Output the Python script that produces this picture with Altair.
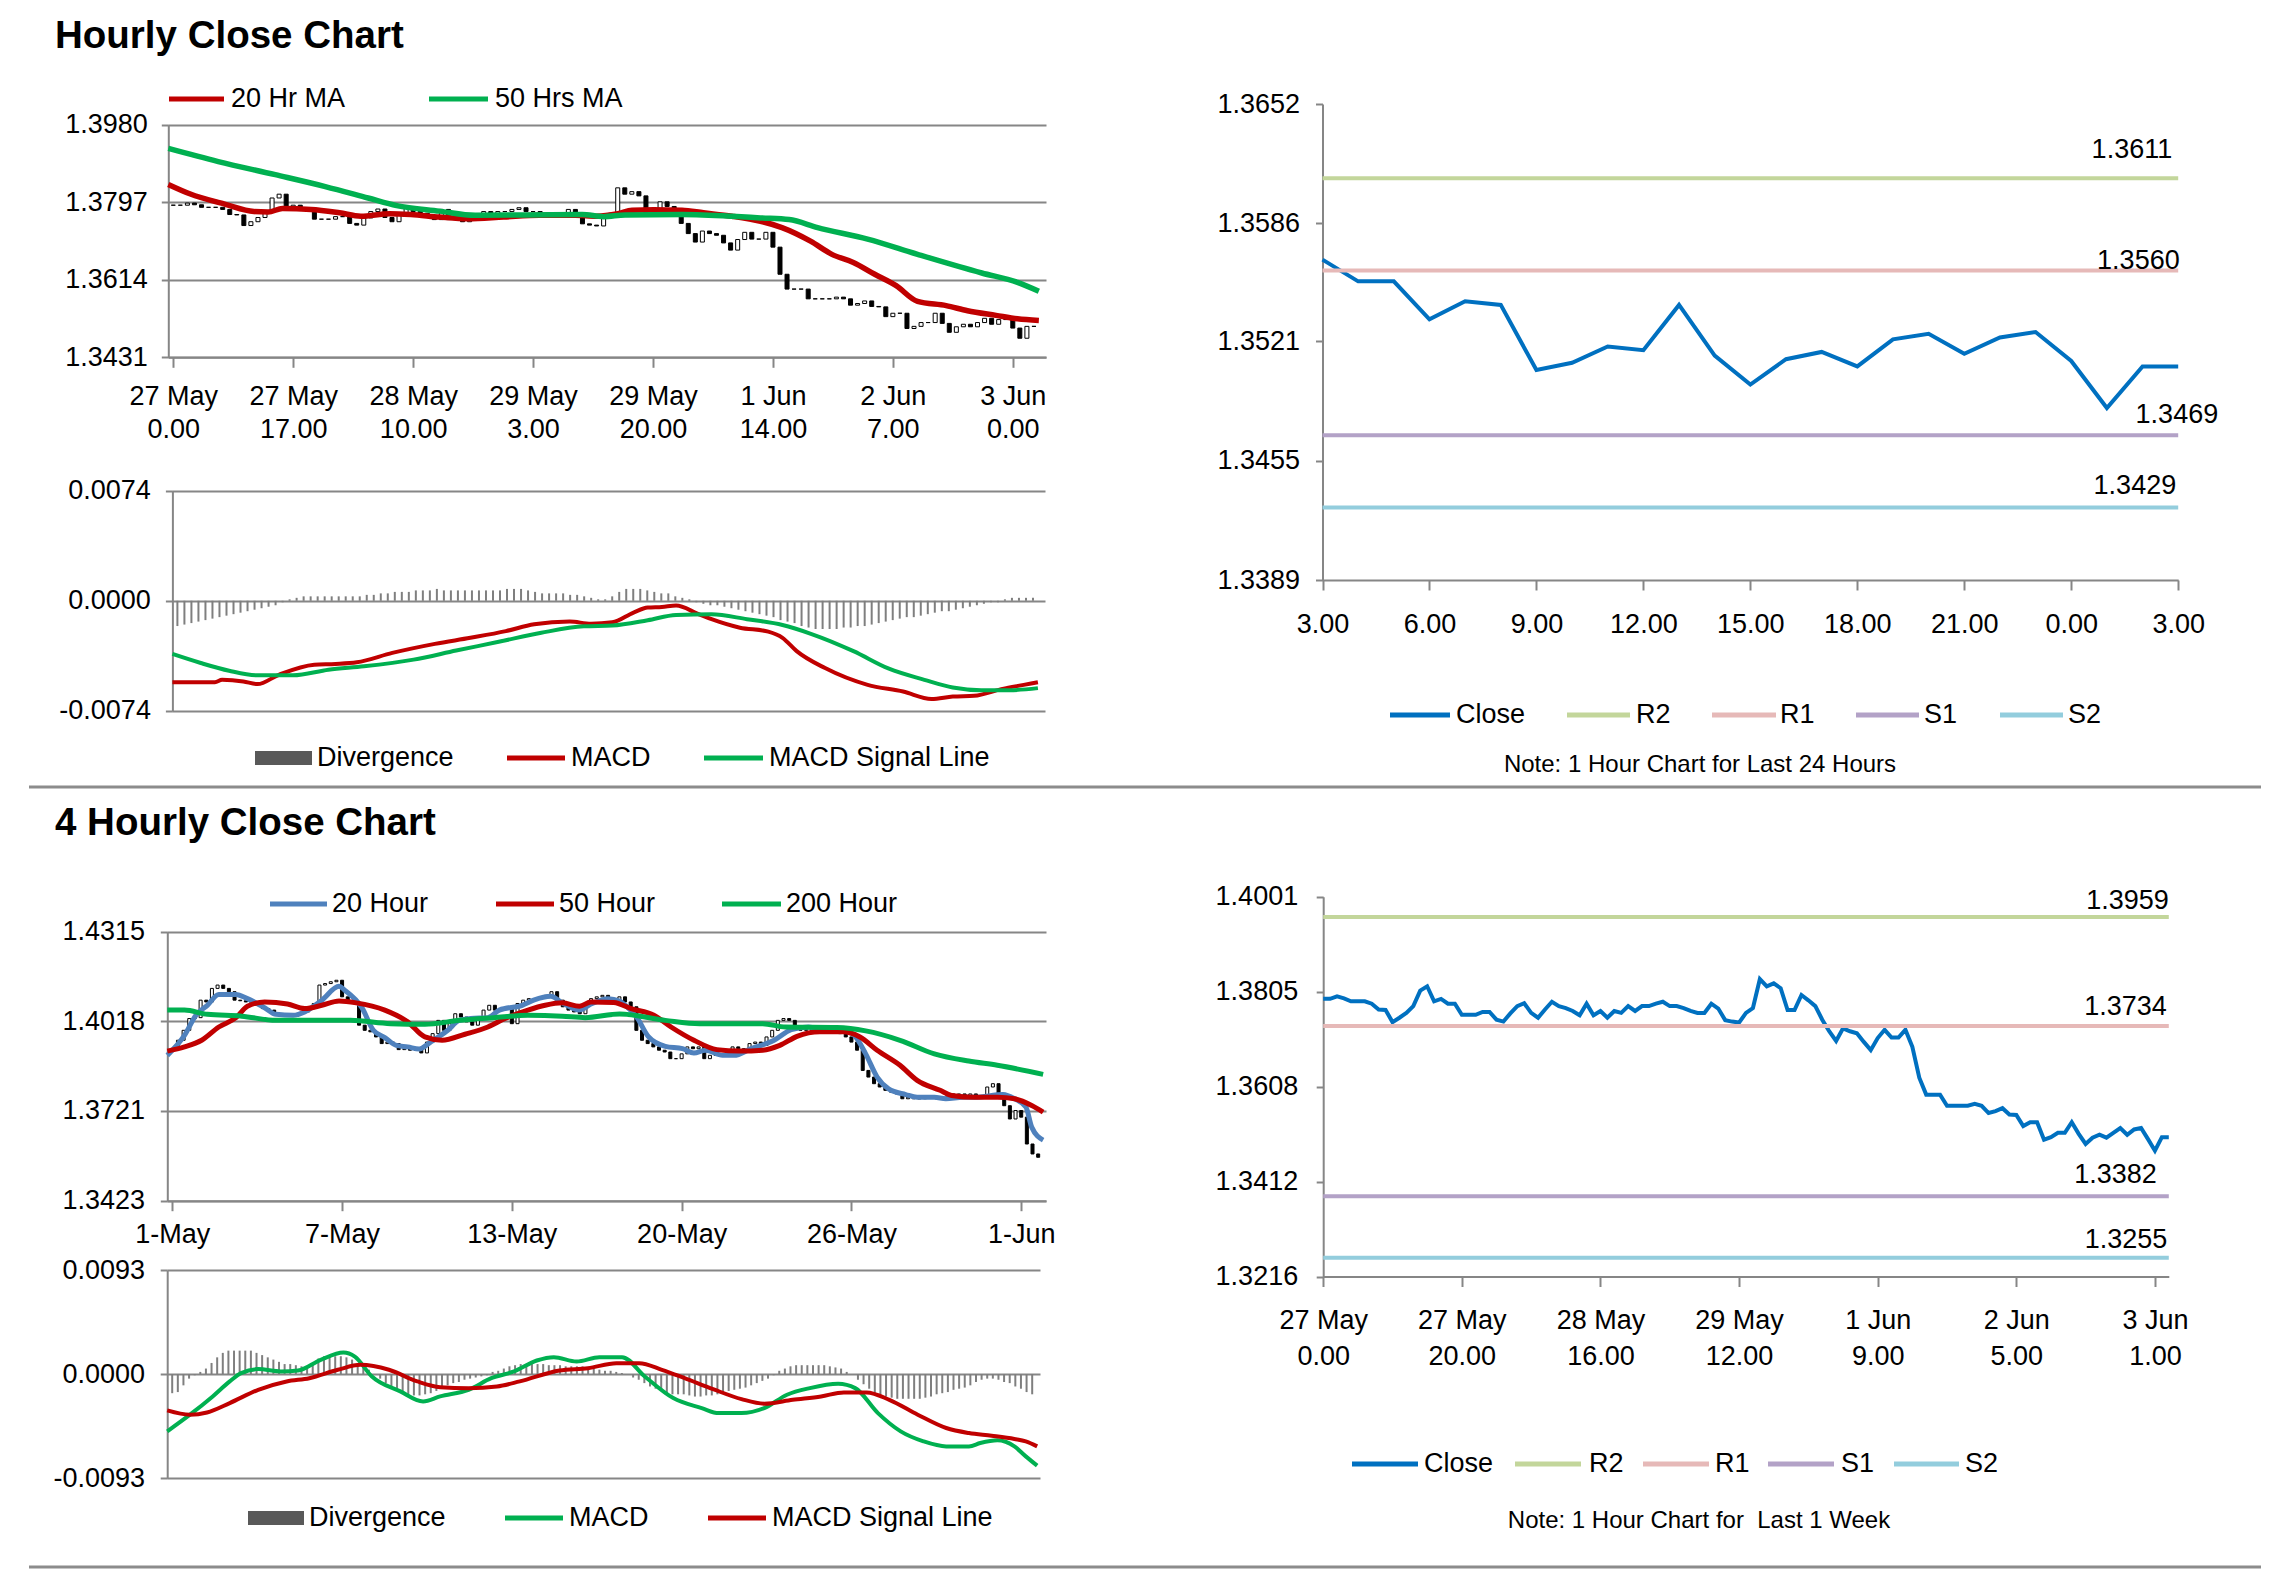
import altair as alt
import pandas as pd

FONT = "Liberation Sans"
GRID = "#868686"
W, H = 2275, 1561

# ======================= DATA =======================
# Hourly closes, index 0 = 27 May 0:00 ... index 122 = 3 Jun 3:00
close_week = [
    1.3790, 1.3790, 1.3795, 1.3791, 1.3785, 1.3785, 1.3785, 1.3780, 1.3768, 1.3767,
    1.3742, 1.3751, 1.3761, 1.3775, 1.3807, 1.3816, 1.3785, 1.3790, 1.3780, 1.3780,
    1.3757, 1.3757, 1.3757, 1.3763, 1.3763, 1.3747, 1.3743, 1.3760, 1.3775, 1.3781,
    1.3761, 1.3751, 1.3768, 1.3784, 1.3775, 1.3771, 1.3765, 1.3756, 1.3780, 1.3756,
    1.3765, 1.3751, 1.3765, 1.3761, 1.3775, 1.3765, 1.3775, 1.3775, 1.3780, 1.3784,
    1.3775, 1.3775, 1.3771, 1.3765, 1.3761, 1.3761, 1.3780, 1.3770, 1.3746, 1.3743,
    1.3741, 1.3761, 1.3771, 1.3831, 1.3816, 1.3822, 1.3812, 1.3767, 1.3767, 1.3798,
    1.3787, 1.3775, 1.3747, 1.3723, 1.3703, 1.3729, 1.3723, 1.3719, 1.3701, 1.3684,
    1.3709, 1.3726, 1.3710, 1.3710, 1.3726, 1.3691, 1.3627, 1.3592, 1.3592, 1.3592,
    1.3569, 1.3569, 1.3569, 1.3569, 1.3573, 1.3569, 1.3554, 1.3558, 1.3564, 1.3551,
    1.3550, 1.3527, 1.3535, 1.3535, 1.3499, 1.3504, 1.3513, 1.3513, 1.3535, 1.3511,
    1.3490, 1.3503, 1.3509, 1.3503, 1.3513, 1.3523, 1.3509, 1.3520, 1.3523, 1.3500,
    1.3476, 1.3504, 1.3504,
]
hour_tick_idx = [0, 17, 34, 51, 68, 85, 102, 119]
hour_tick_day = ["27 May", "27 May", "28 May", "29 May", "29 May", "1 Jun", "2 Jun", "3 Jun"]
hour_tick_time = ["0.00", "17.00", "10.00", "3.00", "20.00", "14.00", "7.00", "0.00"]

ma20_h_idx = [0, 3, 8, 12, 14, 16, 20, 24, 27, 31, 34, 38, 42, 47, 52, 57, 60, 63, 65, 68,
              72, 75, 79, 83, 86, 90, 93, 96, 99, 102, 105, 109, 112, 116, 119, 122]
ma20_h_val = [1.3839, 1.3817, 1.3792, 1.3775, 1.3774, 1.3782, 1.3780, 1.3772, 1.3764, 1.3770,
              1.3768, 1.3762, 1.3758, 1.3762, 1.3766, 1.3766, 1.3764, 1.3770, 1.3778, 1.3779,
              1.3778, 1.3772, 1.3764, 1.3752, 1.3737, 1.3705, 1.3674, 1.3655, 1.3627, 1.3600,
              1.3563, 1.3553, 1.3541, 1.3530, 1.3522, 1.3518]
ma50_h_idx = [0, 7, 15, 22, 28, 32, 38, 43, 50, 58, 61, 64, 72, 79, 83, 87, 91, 98, 105, 114, 119, 122]
ma50_h_val = [1.3924, 1.3893, 1.3862, 1.3834, 1.3807, 1.3789, 1.3776, 1.3766, 1.3767, 1.3768,
              1.3763, 1.3767, 1.3768, 1.3764, 1.3760, 1.3756, 1.3737, 1.3710, 1.3674, 1.3630,
              1.3608, 1.3587]

macd_h_idx = [0, 6, 7, 10, 12, 15, 20, 23, 26, 31, 37, 42, 47, 51, 56, 59, 62, 65, 67, 69,
              71, 74, 76, 80, 84, 86, 88, 92, 98, 103, 107, 110, 113, 117, 120, 122]
macd_h_val = [-0.00548, -0.00548, -0.00532, -0.00543, -0.00561, -0.00498, -0.00430, -0.00425, -0.00414, -0.00351,
              -0.00290, -0.00249, -0.00204, -0.00158, -0.00140, -0.00154, -0.00145, -0.00079, -0.00045, -0.00041,
              -0.00032, -0.00086, -0.00124, -0.00181, -0.00208, -0.00249, -0.00339, -0.00453, -0.00566, -0.00611,
              -0.00661, -0.00645, -0.00640, -0.00593, -0.00566, -0.00548]
sig_h_idx = [0, 4, 8, 12, 17, 22, 27, 34, 40, 46, 52, 58, 62, 67, 71, 76, 81, 86, 90, 96,
             101, 106, 110, 114, 118, 122]
sig_h_val = [-0.00358, -0.00419, -0.00471, -0.00502, -0.00502, -0.00464, -0.00441, -0.00396, -0.00335, -0.00276,
             -0.00215, -0.00172, -0.00167, -0.00131, -0.00095, -0.00091, -0.00124, -0.00163, -0.00222, -0.00339,
             -0.00457, -0.00532, -0.00584, -0.00602, -0.00602, -0.00588]
div_h = [
    -0.0017, -0.0016, -0.0015, -0.0014, -0.0013, -0.0012, -0.0011, -0.0010, -0.0009, -0.0008,
    -0.0007, -0.0006, -0.0005, -0.0004, -0.0003, -0.0001, 0.0001, 0.0002, 0.0003, 0.0003,
    0.0003, 0.0003, 0.0003, 0.0003, 0.0003, 0.0003, 0.0003, 0.0004, 0.0004, 0.0005,
    0.0005, 0.0006, 0.0006, 0.0006, 0.0007, 0.0007, 0.0007, 0.0008, 0.0007, 0.0007,
    0.0007, 0.0007, 0.0007, 0.0007, 0.0007, 0.0007, 0.0007, 0.0008, 0.0008, 0.0008,
    0.0007, 0.0006, 0.0005, 0.0005, 0.0005, 0.0005, 0.0004, 0.0004, 0.0003, 0.0002,
    0.0001, 0.0001, 0.0003, 0.0006, 0.0008, 0.0008, 0.0008, 0.0007, 0.0006, 0.0005,
    0.0005, 0.0003, 0.0002, 0.0001, -0.0001, -0.0002, -0.0003, -0.0003, -0.0004, -0.0005,
    -0.0006, -0.0007, -0.0008, -0.0009, -0.0010, -0.0011, -0.0013, -0.0014, -0.0015, -0.0017,
    -0.0018, -0.0019, -0.0019, -0.0019, -0.0019, -0.0018, -0.0018, -0.0017, -0.0017, -0.0016,
    -0.0015, -0.0014, -0.0013, -0.0012, -0.0011, -0.0011, -0.0010, -0.0009, -0.0008, -0.0007,
    -0.0007, -0.0006, -0.0005, -0.0004, -0.0003, -0.0002, -0.0001, -0.0001, 0.0001, 0.0002,
    0.0002, 0.0002, 0.0002,
]

# Last 24 hours (2 Jun 3.00 -> 3 Jun 3.00)
close_24h = [1.3566, 1.3554, 1.3554, 1.3533, 1.3543, 1.3541, 1.3505, 1.3509, 1.3518, 1.3516,
             1.3541, 1.3513, 1.3497, 1.3511, 1.3515, 1.3507, 1.3522, 1.3525, 1.3514, 1.3523,
             1.3526, 1.3510, 1.3484, 1.3507, 1.3507]
day_tick_idx = [0, 3, 6, 9, 12, 15, 18, 21, 24]
day_tick_lbl = ["3.00", "6.00", "9.00", "12.00", "15.00", "18.00", "21.00", "0.00", "3.00"]
lvl_names = ["R2", "R1", "S1", "S2"]
lvl_colors = ["#C3D69B", "#E6B9B8", "#B3A2C7", "#93CDDD"]
lvl_24h = [1.3611, 1.3560, 1.3469, 1.3429]
lvl_week = [1.3959, 1.3734, 1.3382, 1.3255]

week_tick_idx = [0, 20, 40, 60, 80, 100, 120]
week_tick_day = ["27 May", "27 May", "28 May", "29 May", "1 Jun", "2 Jun", "3 Jun"]
week_tick_time = ["0.00", "20.00", "16.00", "12.00", "9.00", "5.00", "1.00"]

# 4-hourly closes (index 0 = 1 May)
close_4h = [
    1.3927, 1.3955, 1.3988, 1.4027, 1.4030, 1.4088, 1.4082, 1.4127, 1.4138, 1.4127,
    1.4116, 1.4088, 1.4086, 1.4082, 1.4077, 1.4071, 1.4060, 1.4055, 1.4043, 1.4038,
    1.4038, 1.4043, 1.4043, 1.4049, 1.4060, 1.4077, 1.4138, 1.4143, 1.4149, 1.4154,
    1.4099, 1.4082, 1.4077, 1.4005, 1.3988, 1.3983, 1.3966, 1.3944, 1.3949, 1.3944,
    1.3924, 1.3927, 1.3922, 1.3922, 1.3913, 1.3949, 1.3977, 1.4021, 1.3988, 1.4010,
    1.4043, 1.4032, 1.4016, 1.4005, 1.4032, 1.4055, 1.4071, 1.4055, 1.4060, 1.4066,
    1.4010, 1.4077, 1.4088, 1.4093, 1.4093, 1.4099, 1.4104, 1.4116, 1.4088, 1.4066,
    1.4055, 1.4049, 1.4043, 1.4077, 1.4093, 1.4099, 1.4104, 1.4093, 1.4088, 1.4099,
    1.4082, 1.4066, 1.3988, 1.3955, 1.3944, 1.3933, 1.3922, 1.3916, 1.3894, 1.3894,
    1.3910, 1.3933, 1.3927, 1.3933, 1.3894, 1.3905, 1.3910, 1.3902, 1.3922, 1.3933,
    1.3927, 1.3922, 1.3944, 1.3949, 1.3938, 1.3966, 1.3988, 1.4021, 1.4027, 1.4021,
    1.3994, 1.3988, 1.3990, 1.3988, 1.3988, 1.3983, 1.3983, 1.3979, 1.3977, 1.3966,
    1.3949, 1.3922, 1.3855, 1.3833, 1.3811, 1.3800, 1.3789, 1.3783, 1.3777, 1.3761,
    1.3766, 1.3761, 1.3761, 1.3766, 1.3766, 1.3761, 1.3766, 1.3777, 1.3772, 1.3777,
    1.3772, 1.3777, 1.3772, 1.3766, 1.3800, 1.3811, 1.3777, 1.3738, 1.3694, 1.3722,
    1.3700, 1.3611, 1.3578, 1.3567,
]
h4_tick_idx = [0, 30, 60, 90, 120, 150]
h4_tick_lbl = ["1-May", "7-May", "13-May", "20-May", "26-May", "1-Jun"]

ma20_4h_idx = [0, 3, 5, 7, 9, 12, 14, 17, 19, 22, 24, 27, 30, 31, 34, 36, 38, 40, 42, 44,
               46, 49, 51, 53, 56, 58, 62, 64, 67, 69, 72, 74, 77, 79, 80, 82, 84, 87, 90, 92,
               94, 97, 99, 102, 106, 109, 112, 115, 118, 120, 122, 124, 126, 129, 131, 134, 136, 139, 141, 146,
               148, 150, 151, 153]
ma20_4h_val = [1.3905, 1.3971, 1.4038, 1.4071, 1.4107, 1.4107, 1.4093, 1.4063, 1.4041, 1.4038,
               1.4049, 1.4088, 1.4134, 1.4121, 1.4063, 1.3988, 1.3964, 1.3938, 1.3933, 1.3926,
               1.3949, 1.3988, 1.4021, 1.4027, 1.4030, 1.4055, 1.4071, 1.4088, 1.4101, 1.4079,
               1.4055, 1.4075, 1.4093, 1.4085, 1.4071, 1.4032, 1.3968, 1.3935, 1.3927, 1.3913,
               1.3922, 1.3905, 1.3905, 1.3927, 1.3955, 1.3990, 1.3999, 1.3988, 1.3988, 1.3971,
               1.3910, 1.3833, 1.3794, 1.3775, 1.3766, 1.3766, 1.3761, 1.3766, 1.3766, 1.3775,
               1.3761, 1.3733, 1.3667, 1.3624]
ma50_4h_idx = [0, 3, 6, 9, 12, 14, 17, 21, 24, 27, 30, 33, 38, 42, 45, 48, 52, 56, 59, 63,
               66, 69, 72, 74, 78, 81, 85, 88, 92, 96, 100, 104, 107, 110, 114, 118, 121, 124, 128, 131,
               135, 137, 141, 145, 148, 151, 153]
ma50_4h_val = [1.3919, 1.3933, 1.3955, 1.3999, 1.4030, 1.4068, 1.4082, 1.4075, 1.4060, 1.4071,
               1.4085, 1.4079, 1.4055, 1.4016, 1.3966, 1.3955, 1.3975, 1.3999, 1.4027, 1.4055,
               1.4071, 1.4079, 1.4068, 1.4082, 1.4080, 1.4060, 1.4038, 1.3999, 1.3955, 1.3924,
               1.3919, 1.3922, 1.3938, 1.3968, 1.3983, 1.3983, 1.3966, 1.3922, 1.3872, 1.3822,
               1.3789, 1.3772, 1.3766, 1.3766, 1.3761, 1.3739, 1.3717]
ma200_4h_idx = [0, 3, 7, 13, 19, 25, 32, 39, 45, 51, 57, 63, 69, 73, 79, 87, 93, 104, 108, 117,
                122, 128, 134, 140, 145, 153]
ma200_4h_val = [1.4055, 1.4055, 1.4041, 1.4035, 1.4021, 1.4021, 1.4021, 1.4010, 1.4008, 1.4021,
                1.4030, 1.4038, 1.4035, 1.4030, 1.4042, 1.4021, 1.4010, 1.4010, 1.3999, 1.3997,
                1.3986, 1.3955, 1.3910, 1.3886, 1.3872, 1.3842]

macd_4h_idx = [0, 4, 8, 11, 13, 16, 20, 23, 27, 31, 33, 36, 41, 45, 48, 53, 57, 61, 65, 68,
               72, 76, 80, 84, 89, 94, 97, 101, 105, 109, 113, 118, 121, 125, 129, 133, 137, 141, 143, 146,
               149, 151, 153]
macd_4h_val = [-0.00511, -0.00362, -0.00199, -0.00065, 0.00009, 0.00045, 0.00024, 0.00033, 0.00128, 0.00193,
               0.00157, -0.00021, -0.00154, -0.00244, -0.00199, -0.00140, -0.00036, 0.00024, 0.00122, 0.00152,
               0.00113, 0.00152, 0.00152, -0.00021, -0.00214, -0.00303, -0.00348, -0.00348, -0.00303, -0.00184,
               -0.00125, -0.00086, -0.00125, -0.00348, -0.00511, -0.00600, -0.00645, -0.00645, -0.00615, -0.00591,
               -0.00645, -0.00734, -0.00817]
sig_4h_idx = [0, 4, 7, 11, 16, 21, 25, 30, 34, 39, 44, 48, 53, 58, 62, 69, 74, 79, 83, 87,
              91, 96, 101, 105, 110, 115, 119, 123, 127, 132, 137, 141, 145, 149, 151, 153]
sig_4h_val = [-0.00324, -0.00362, -0.00342, -0.00258, -0.00140, -0.00065, -0.00036, 0.00039, 0.00083, 0.00039,
              -0.00065, -0.00116, -0.00125, -0.00110, -0.00065, 0.00033, 0.00053, 0.00098, 0.00098, 0.00039,
              -0.00036, -0.00134, -0.00223, -0.00264, -0.00229, -0.00199, -0.00163, -0.00163, -0.00229, -0.00362,
              -0.00481, -0.00526, -0.00550, -0.00579, -0.00600, -0.00645]
div_4h = [
    -0.0017, -0.0016, -0.0010, -0.0004, -0.0001, 0.0002, 0.0005, 0.0010, 0.0015, 0.0019,
    0.0021, 0.0021, 0.0021, 0.0021, 0.0021, 0.0019, 0.0017, 0.0015, 0.0013, 0.0011,
    0.0009, 0.0009, 0.0008, 0.0007, 0.0006, 0.0009, 0.0014, 0.0016, 0.0016, 0.0016,
    0.0016, 0.0015, 0.0013, 0.0010, 0.0007, 0.0004, 0.0000, -0.0004, -0.0008, -0.0012,
    -0.0015, -0.0017, -0.0019, -0.0019, -0.0019, -0.0018, -0.0017, -0.0015, -0.0012, -0.0010,
    -0.0008, -0.0007, -0.0005, -0.0004, -0.0003, -0.0002, -0.0001, 0.0002, 0.0003, 0.0005,
    0.0007, 0.0008, 0.0009, 0.0009, 0.0009, 0.0009, 0.0009, 0.0008, 0.0008, 0.0008,
    0.0007, 0.0007, 0.0007, 0.0007, 0.0006, 0.0005, 0.0004, 0.0003, 0.0003, 0.0002,
    0.0001, 0.0000, -0.0003, -0.0005, -0.0008, -0.0011, -0.0013, -0.0015, -0.0017, -0.0018,
    -0.0018, -0.0018, -0.0019, -0.0020, -0.0020, -0.0019, -0.0019, -0.0018, -0.0017, -0.0015,
    -0.0014, -0.0013, -0.0012, -0.0010, -0.0008, -0.0006, -0.0004, -0.0001, 0.0003, 0.0005,
    0.0007, 0.0008, 0.0008, 0.0008, 0.0008, 0.0008, 0.0008, 0.0007, 0.0006, 0.0005,
    0.0002, 0.0000, -0.0005, -0.0009, -0.0013, -0.0017, -0.0019, -0.0020, -0.0021, -0.0022,
    -0.0022, -0.0022, -0.0022, -0.0022, -0.0021, -0.0020, -0.0018, -0.0017, -0.0016, -0.0014,
    -0.0013, -0.0012, -0.0010, -0.0007, -0.0005, -0.0004, -0.0004, -0.0005, -0.0007, -0.0008,
    -0.0011, -0.0013, -0.0016, -0.0018,
]

# ======================= LAYOUT (px inside the svg) =======================
P_TL = dict(x=[160.3, 1038.0], y=[349.3, 116.7], xd=[0, 123], yd=[1.3431, 1.3980])
P_TLM = dict(x=[164.4, 1037.0], y=[702.7, 482.9], xd=[0, 123], yd=[-0.0074, 0.0074])
P_TR = dict(x=[1314.5, 2170.2], y=[572.0, 96.0], xd=[0, 24], yd=[1.3389, 1.3652])
P_BL = dict(x=[159.3, 1038.0], y=[1192.7, 923.7], xd=[0, 153.5], yd=[1.3423, 1.4315])
P_BLM = dict(x=[159.2, 1032.0], y=[1470.3, 1262.0], xd=[0, 153.5], yd=[-0.0093, 0.0093])
P_BR = dict(x=[1315.2, 2160.8], y=[1268.5, 888.8], xd=[0, 122], yd=[1.3216, 1.4001])

NUM_EXPR = "datum.value < 0 ? '-' + format(-datum.value, '.4f') : format(datum.value, '.4f')"
one = pd.DataFrame({"k": [0]})
layers = []


def sx(p):
    return alt.Scale(domain=p["xd"], range=p["x"], nice=False, zero=False)


def sy(p):
    return alt.Scale(domain=p["yd"], range=p["y"], nice=False, zero=False)


def lbl_expr(vals, labels):
    expr = "''"
    for v, l in reversed(list(zip(vals, labels))):
        if isinstance(l, (list, tuple)):
            s = "[" + ", ".join("'%s'" % t for t in l) + "]"
        else:
            s = "'%s'" % l
        expr = "(abs(datum.value - %s) < 0.001 ? %s : %s)" % (v, s, expr)
    return expr


def y_axis(p, values, pad, grid):
    return alt.Axis(orient="left", values=values, offset=-p["x"][0], title=None,
                    grid=grid, gridColor=GRID, gridWidth=2,
                    domain=True, domainColor=GRID, domainWidth=2,
                    ticks=True, tickColor=GRID, tickWidth=2, tickSize=7,
                    labelPadding=pad, labelFont=FONT, labelFontSize=27, labelColor="black",
                    labelOverlap=False, labelFlush=False, labelExpr=NUM_EXPR)


def x_axis(p, values, expr, pad, lh=33):
    return alt.Axis(orient="bottom", values=values, offset=p["y"][0] - H, title=None,
                    grid=False, domain=True, domainColor=GRID, domainWidth=2,
                    ticks=True, tickColor=GRID, tickWidth=2, tickSize=10,
                    labelPadding=pad, labelFont=FONT, labelFontSize=27, labelColor="black",
                    labelOverlap=False, labelFlush=False, labelExpr=expr,
                    labelAlign="center", labelBaseline="top", labelLineHeight=lh)


def candles(p, closes, size, xaxis, yaxis):
    opens = [closes[0]] + closes[:-1]
    df = pd.DataFrame({"idx": list(range(len(closes))), "open": opens, "close": closes})
    return alt.Chart(df).mark_bar(size=size, stroke="black", strokeWidth=1).encode(
        x=alt.X("idx:Q", scale=sx(p), axis=xaxis),
        y=alt.Y("open:Q", scale=sy(p), axis=yaxis),
        y2="close:Q",
        fill=alt.condition("datum.close >= datum.open", alt.value("white"), alt.value("black")),
    )


def series(p, idx, vals, color, width, interp="linear", xaxis=None, yaxis=None):
    df = pd.DataFrame({"idx": idx, "val": vals})
    return alt.Chart(df).mark_line(color=color, strokeWidth=width, interpolate=interp).encode(
        x=alt.X("idx:Q", scale=sx(p), axis=xaxis),
        y=alt.Y("val:Q", scale=sy(p), axis=yaxis),
    )


def divergence(p, vals, size, yaxis):
    df = pd.DataFrame({"idx": list(range(len(vals))), "val": vals, "zero": [0.0] * len(vals)})
    return alt.Chart(df).mark_bar(size=size, color="#7f7f7f").encode(
        x=alt.X("idx:Q", scale=sx(p), axis=None),
        y=alt.Y("val:Q", scale=sy(p), axis=yaxis),
        y2="zero:Q",
    )


def level(p, value, color, last):
    df = pd.DataFrame({"a": [0], "b": [last], "val": [value]})
    return alt.Chart(df).mark_rule(color=color, strokeWidth=4).encode(
        x=alt.X("a:Q", scale=sx(p), axis=None), x2="b:Q",
        y=alt.Y("val:Q", scale=sy(p), axis=None),
    )


def level_label(p, value, last, dx, dy):
    df = pd.DataFrame({"idx": [last], "val": [value], "label": ["%.4f" % value]})
    return alt.Chart(df).mark_text(align="right", baseline="middle", dx=dx, dy=dy,
                                   font=FONT, fontSize=27, color="black").encode(
        x=alt.X("idx:Q", scale=sx(p), axis=None),
        y=alt.Y("val:Q", scale=sy(p), axis=None),
        text="label:N",
    )


def leg_line(x1, x2, y, color, label, tx):
    r = alt.Chart(one).mark_rule(color=color, strokeWidth=5).encode(
        x=alt.value(x1), x2=alt.value(x2), y=alt.value(y))
    t = alt.Chart(one).mark_text(align="left", baseline="middle", font=FONT, fontSize=27,
                                 color="black").encode(
        x=alt.value(tx), y=alt.value(y), text=alt.value(label))
    return [r, t]


def leg_box(x1, x2, y, label, tx):
    r = alt.Chart(one).mark_rect(color="#595959").encode(
        x=alt.value(x1), x2=alt.value(x2), y=alt.value(y - 7), y2=alt.value(y + 7))
    t = alt.Chart(one).mark_text(align="left", baseline="middle", font=FONT, fontSize=27,
                                 color="black").encode(
        x=alt.value(tx), y=alt.value(y), text=alt.value(label))
    return [r, t]


def text(x, y, s, size, weight="normal", align="left"):
    return alt.Chart(one).mark_text(align=align, baseline="alphabetic", font=FONT, fontSize=size,
                                    fontWeight=weight, color="black").encode(
        x=alt.value(x), y=alt.value(y), text=alt.value(s))


def sep(y):
    return alt.Chart(one).mark_rule(color="#8c8c8c", strokeWidth=3).encode(
        x=alt.value(21), x2=alt.value(2253), y=alt.value(y))


# ======================= TOP: HOURLY =======================
layers.append(text(47, 40, "Hourly Close Chart", 38.5, "bold"))

tl_x = x_axis(P_TL, hour_tick_idx,
              lbl_expr(hour_tick_idx, list(zip(hour_tick_day, hour_tick_time))), 16, 33)
tl_y = y_axis(P_TL, [1.3431, 1.3614, 1.3797, 1.3980], 14, True)
layers.append(candles(P_TL, close_week, 4, tl_x, tl_y))
layers.append(series(P_TL, ma20_h_idx, ma20_h_val, "#C00000", 5.5, "monotone"))
layers.append(series(P_TL, ma50_h_idx, ma50_h_val, "#00B050", 5.5, "monotone"))
layers += leg_line(161, 216, 91, "#C00000", "20 Hr MA", 223)
layers += leg_line(421, 480, 91, "#00B050", "50 Hrs MA", 487)

layers.append(divergence(P_TLM, div_h, 2, y_axis(P_TLM, [-0.0074, 0.0, 0.0074], 15, True)))
layers.append(series(P_TLM, macd_h_idx, macd_h_val, "#C00000", 4, "monotone"))
layers.append(series(P_TLM, sig_h_idx, sig_h_val, "#00B050", 4, "monotone"))
layers += leg_box(247, 304, 750, "Divergence", 309)
layers += leg_line(499, 557, 750, "#C00000", "MACD", 563)
layers += leg_line(696, 755, 750, "#00B050", "MACD Signal Line", 761)

tr_x = x_axis(P_TR, day_tick_idx, lbl_expr(day_tick_idx, day_tick_lbl), 21)
tr_y = y_axis(P_TR, [1.3389, 1.3455, 1.3521, 1.3586, 1.3652], 16, False)
layers.append(series(P_TR, list(range(len(close_24h))), close_24h, "#0070C0", 4,
                     xaxis=tr_x, yaxis=tr_y))
tr_lbl_off = [(-6, -28.5), (1.5, -10), (40, -20), (-2, -22)]
for v, c in zip(lvl_24h, lvl_colors):
    layers.append(level(P_TR, v, c, 24))
for v, (dx, dy) in zip(lvl_24h, tr_lbl_off):
    layers.append(level_label(P_TR, v, 24, dx, dy))
layers += leg_line(1382, 1442, 707, "#0070C0", "Close", 1448)
for (x1, x2, tx), n, c in zip([(1559, 1622, 1628), (1704, 1768, 1772), (1848, 1911, 1916),
                               (1992, 2055, 2060)], lvl_names, lvl_colors):
    layers += leg_line(x1, x2, 707, c, n, tx)
layers.append(text(1692, 764, "Note: 1 Hour Chart for Last 24 Hours", 24, align="center"))

layers.append(sep(779))

# ======================= BOTTOM: 4 HOURLY =======================
layers.append(text(47, 827, "4 Hourly Close Chart", 38.5, "bold"))

bl_x = x_axis(P_BL, h4_tick_idx, lbl_expr(h4_tick_idx, h4_tick_lbl), 11)
bl_y = y_axis(P_BL, [1.3423, 1.3721, 1.4018, 1.4315], 15.7, True)
layers.append(candles(P_BL, close_4h, 3, bl_x, bl_y))
layers.append(series(P_BL, ma20_4h_idx, ma20_4h_val, "#4F81BD", 5, "monotone"))
layers.append(series(P_BL, ma50_4h_idx, ma50_4h_val, "#C00000", 5, "monotone"))
layers.append(series(P_BL, ma200_4h_idx, ma200_4h_val, "#00B050", 5, "monotone"))
layers += leg_line(262, 319, 896, "#4F81BD", "20 Hour", 324)
layers += leg_line(488, 546, 896, "#C00000", "50 Hour", 551)
layers += leg_line(714, 773, 896, "#00B050", "200 Hour", 778)

layers.append(divergence(P_BLM, div_4h, 2, y_axis(P_BLM, [-0.0093, 0.0, 0.0093], 15.7, True)))
layers.append(series(P_BLM, macd_4h_idx, macd_4h_val, "#00B050", 4, "monotone"))
layers.append(series(P_BLM, sig_4h_idx, sig_4h_val, "#C00000", 4, "monotone"))
layers += leg_box(240, 296, 1510, "Divergence", 301)
layers += leg_line(497, 555, 1510, "#00B050", "MACD", 561)
layers += leg_line(700, 758, 1510, "#C00000", "MACD Signal Line", 764)

br_x = x_axis(P_BR, week_tick_idx,
              lbl_expr(week_tick_idx, list(zip(week_tick_day, week_tick_time))), 21, 36)
br_y = y_axis(P_BR, [1.3216, 1.3412, 1.3608, 1.3805, 1.4001], 18.5, False)
layers.append(series(P_BR, list(range(len(close_week))), close_week, "#0070C0", 4,
                     xaxis=br_x, yaxis=br_y))
br_lbl_off = [(0, -16), (-2, -18.5), (-12, -21.5), (-1.5, -18)]
for v, c in zip(lvl_week, lvl_colors):
    layers.append(level(P_BR, v, c, 122))
for v, (dx, dy) in zip(lvl_week, br_lbl_off):
    layers.append(level_label(P_BR, v, 122, dx, dy))
layers += leg_line(1344, 1410, 1456, "#0070C0", "Close", 1416)
for (x1, x2, tx), n, c in zip([(1507, 1573, 1581), (1635, 1701, 1707), (1760, 1826, 1833),
                               (1886, 1951, 1957)], lvl_names, lvl_colors):
    layers += leg_line(x1, x2, 1456, c, n, tx)
layers.append(text(1691, 1520, "Note: 1 Hour Chart for\u00a0 Last 1 Week", 24, align="center"))

layers.append(sep(1559))

chart = alt.layer(*layers).resolve_scale(
    x="independent", y="independent"
).resolve_axis(
    x="independent", y="independent"
).properties(
    width=W, height=H, padding=0,
    autosize=alt.AutoSizeParams(type="none"),
).configure(
    font=FONT, background="white"
).configure_view(stroke="transparent")

chart.save("out.html", embed_options={"renderer": "svg", "actions": False})
